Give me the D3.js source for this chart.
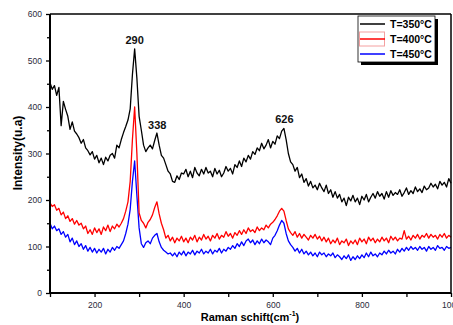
<!DOCTYPE html>
<html><head><meta charset="utf-8">
<script src="https://cdn.jsdelivr.net/npm/d3@7/dist/d3.min.js"></script>
<style>body{margin:0;background:#fff}svg{display:block;font-family:"Liberation Sans",Arial,sans-serif}</style>
</head><body><svg id="c" width="453" height="325"></svg>
<script>
const shiftStart = 100, shiftStep = 5, shiftEnd = 1000;
const seriesNames = ["T=350°C", "T=400°C", "T=450°C"];
const seriesColors = ["#000000", "#ff0000", "#0000ff"];
const xTicks = [200, 400, 600, 800, 1000];
const yTicks = [0, 100, 200, 300, 400, 500, 600];
const peakLabels = ["290", "338", "626"];
const peakShifts = [290, 338, 626];
const peakValues = [527, 344, 356];

const t350 = [452,438,446,425,442,360,412,395,380,352,
368,348,342,334,322,330,312,306,297,304,
288,296,280,290,276,292,284,296,300,290,
318,312,330,345,358,372,396,470,525,462,
380,350,318,304,312,318,310,328,344,318,
296,290,276,262,256,240,238,252,244,258,
256,266,250,262,248,270,258,252,266,256,
270,258,262,250,268,256,264,250,258,272,
262,268,256,276,270,284,272,290,282,296,
288,304,298,312,306,322,310,318,330,312,
326,320,338,332,348,354,330,300,282,276,
262,270,248,256,238,246,230,240,226,232,
222,236,226,218,232,214,222,206,218,204,
212,196,204,188,206,198,210,196,204,190,
208,200,212,196,206,214,204,218,208,214,
202,218,206,220,210,216,212,222,208,216,
226,212,220,214,228,218,224,216,230,222,
226,236,228,234,224,240,232,238,228,246,236];

const t400 = [194,186,190,178,182,168,174,160,166,154,
160,148,156,146,150,138,144,128,136,126,
140,130,138,126,142,134,146,132,144,138,
148,142,150,160,176,196,240,330,400,300,
172,156,150,140,152,158,168,184,196,170,
150,136,118,124,112,120,108,118,112,122,
110,118,108,120,114,124,110,120,114,126,
116,122,112,124,118,128,116,124,120,132,
122,128,118,130,124,134,126,136,128,140,
132,136,130,142,134,140,136,146,140,148,
152,158,166,176,182,176,156,138,130,124,
132,120,128,118,126,120,114,124,118,126,
116,122,112,120,110,118,106,114,108,118,
104,112,108,116,102,112,106,114,104,118,
110,116,106,120,112,118,108,116,110,120,
112,118,108,122,114,120,112,118,116,134,
116,122,114,124,118,126,116,124,120,128,
118,126,120,124,116,126,120,128,118,124,120];

const t450 = [150,138,144,134,138,126,132,120,126,110,
118,104,112,100,106,94,102,90,98,88,
96,86,94,88,96,84,94,88,98,92,
100,96,104,112,128,148,180,240,284,210,
140,106,98,108,112,106,118,124,128,110,
98,92,88,84,86,80,86,78,88,82,
90,80,88,84,92,82,90,86,94,84,
90,86,94,84,92,88,96,86,94,90,
98,94,102,96,106,100,110,102,112,116,
108,114,104,112,106,116,108,114,110,104,
118,124,134,146,156,150,128,112,104,98,
90,96,86,94,84,90,82,88,80,86,
78,88,82,86,78,84,80,86,76,82,
78,72,80,74,82,70,78,72,80,74,
82,76,86,78,88,80,84,78,86,82,
90,84,92,86,90,84,94,88,96,90,
98,92,100,94,98,92,100,94,98,90,
100,94,98,92,102,96,98,92,100,96,98];

const shifts = d3.range(shiftStart, shiftEnd + 1, shiftStep);
const allSeries = [t350, t400, t450];

const svg = d3.select("#c");
const m = {l: 50, t: 14, r: 2, b: 32};
const W = 453 - m.l - m.r, H = 325 - m.t - m.b;
const g = svg.append("g").attr("transform", `translate(${m.l},${m.t})`);
const x = d3.scaleLinear().domain([100, 1000]).range([0, W]);
const y = d3.scaleLinear().domain([0, 600]).range([H, 0]);

const line = d3.line().x((d, i) => x(shifts[i])).y(d => y(d));
[2, 1, 0].forEach(k => {
  g.append("path").datum(allSeries[k]).attr("d", line)
    .attr("fill", "none").attr("stroke", seriesColors[k]).attr("stroke-width", 1.3)
    .attr("stroke-linejoin", "round");
});

const tickColor = "#2a2a3a";
const xAx = g.append("g").attr("transform", `translate(0,${H})`)
  .call(d3.axisBottom(x).tickValues(xTicks).tickSize(4).tickPadding(5).tickFormat(d3.format("d")));
const xMinor = g.append("g").attr("transform", `translate(0,${H})`)
  .call(d3.axisBottom(x).tickValues(d3.range(100, 1001, 100).filter(v => !xTicks.includes(v))).tickSize(4).tickFormat(""));
const yAx = g.append("g").call(d3.axisLeft(y).tickValues(yTicks).tickSize(4).tickPadding(4));
const yMinor = g.append("g").call(d3.axisLeft(y).tickValues(d3.range(50, 600, 100)).tickSize(3).tickFormat(""));
[xAx, xMinor, yAx, yMinor].forEach(a => {
  a.select(".domain").remove();
  a.selectAll("line").attr("stroke", "#000").attr("stroke-width", 1.3);
  a.selectAll("text").attr("fill", tickColor).attr("font-size", 8.5).attr("font-family", "Liberation Sans, Arial, sans-serif");
});
g.append("line").attr("x1", 0).attr("x2", W).attr("y1", 0).attr("y2", 0).attr("stroke", "#000").attr("stroke-width", 1.5);
g.append("line").attr("x1", W).attr("x2", W).attr("y1", 0).attr("y2", H).attr("stroke", "#000").attr("stroke-width", 1.5);
g.append("line").attr("x1", 0).attr("x2", 0).attr("y1", 0).attr("y2", H).attr("stroke", "#000").attr("stroke-width", 2);
g.append("line").attr("x1", 0).attr("x2", W).attr("y1", H).attr("y2", H).attr("stroke", "#000").attr("stroke-width", 2);

peakLabels.forEach((t, i) => {
  g.append("text").attr("x", x(peakShifts[i])).attr("y", y(peakValues[i]) - 4)
    .attr("text-anchor", i === 1 ? "start" : "middle").attr("dx", i === 1 ? -8 : 0)
    .attr("font-weight", "bold").attr("font-size", 11).attr("fill", "#111").text(t);
});

const xt = svg.append("text").attr("x", 250).attr("y", 321).attr("text-anchor", "middle")
  .attr("font-weight", "bold").attr("font-size", 11).attr("fill", "#000");
xt.append("tspan").text("Raman schift(cm");
xt.append("tspan").attr("font-size", 7).attr("dy", -5).text("-1");
xt.append("tspan").attr("dy", 5).text(")");
svg.append("text").attr("transform", "translate(22,153) rotate(-90)").attr("text-anchor", "middle")
  .attr("font-weight", "bold").attr("font-size", 12).attr("fill", "#000").text("Intensity(u.a)");

const lg = svg.append("g").attr("transform", "translate(358,16)");
lg.append("rect").attr("x", 3).attr("y", 3).attr("width", 77).attr("height", 46).attr("fill", "#000");
lg.append("rect").attr("x", 0).attr("y", 0).attr("width", 77).attr("height", 46).attr("fill", "#fff").attr("stroke", "#000").attr("stroke-width", 0.8);
seriesNames.forEach((n, i) => {
  const yy = 8 + i * 15;
  if (i === 1) lg.append("rect").attr("x", 1.5).attr("y", yy - 7).attr("width", 25).attr("height", 14)
    .attr("fill", "none").attr("stroke", "#f4a0a0").attr("stroke-width", 1);
  lg.append("line").attr("x1", 2).attr("x2", 27).attr("y1", yy).attr("y2", yy)
    .attr("stroke", seriesColors[i]).attr("stroke-width", 1.5);
  lg.append("text").attr("x", 32).attr("y", yy + 4).attr("font-weight", "bold").attr("font-size", 10.5)
    .attr("fill", "#000").text(n);
});
</script></body></html>
